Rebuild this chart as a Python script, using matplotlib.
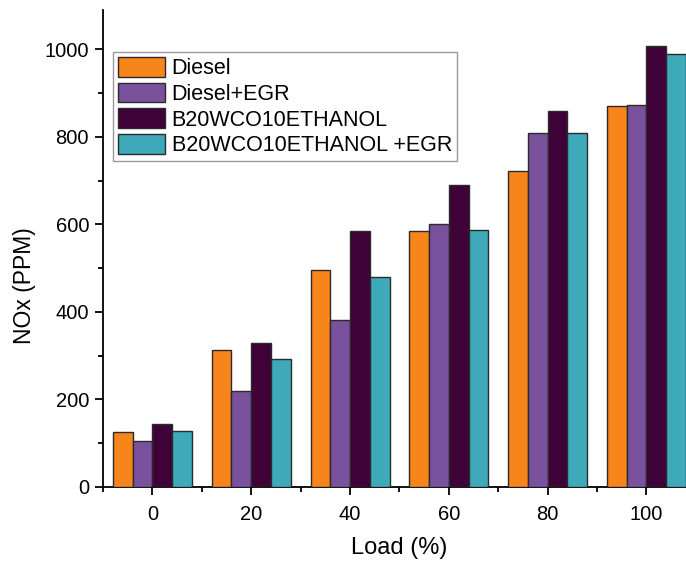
import numpy as np
import matplotlib
matplotlib.use("Agg")
import matplotlib.pyplot as plt
from matplotlib.ticker import MultipleLocator

plt.rcParams['font.family'] = ['Liberation Sans', 'DejaVu Sans']

# NOx emissions vs engine load
loads = [0, 20, 40, 60, 80, 100]
fuels = ['Diesel', 'Diesel+EGR', 'B20WCO10ETHANOL', 'B20WCO10ETHANOL +EGR']
diesel = [126, 314, 497, 586, 722, 870]
diesel_egr = [104, 219, 382, 602, 808, 873]
b20 = [143, 330, 584, 689, 859, 1008]
b20_egr = [129, 293, 480, 588, 808, 990]
colors = ['#F8841C', '#7A519C', '#3E0238', '#3EA9B9']

series = [diesel, diesel_egr, b20, b20_egr]
bar_w = 4
offsets = [-6, -2, 2, 6]

fig = plt.figure(figsize=(6.86, 5.61), dpi=100)
ax = fig.add_axes([103 / 686, 74 / 561, 583 / 686, 477 / 561])

x = np.array(loads, dtype=float)
for vals, off, col, name in zip(series, offsets, colors, fuels):
    ax.bar(x + off, vals, width=bar_w, color=col, edgecolor='#2a2a2a',
           linewidth=1.0, label=name, zorder=3)

ax.set_xlim(-10, 108)
ax.set_ylim(0, 1090)

ax.spines['top'].set_visible(False)
ax.spines['right'].set_visible(False)
for s in ('left', 'bottom'):
    ax.spines[s].set_linewidth(1.3)

ax.set_xticks(loads)
ax.xaxis.set_minor_locator(MultipleLocator(10))
ax.yaxis.set_major_locator(MultipleLocator(200))
ax.yaxis.set_minor_locator(MultipleLocator(100))
ax.tick_params(axis='both', which='major', direction='out', length=6,
               width=1.3, labelsize=14.5)
ax.tick_params(axis='both', which='minor', direction='out', length=3.5,
               width=1.3)
ax.tick_params(axis='y', pad=4)
ax.tick_params(axis='x', pad=7)

ax.set_xlabel('Load (%)', fontsize=17)
ax.set_ylabel('NOx (PPM)', fontsize=16.5)
ax.xaxis.label.set_va('center')
ax.yaxis.label.set_va('center')
ax.xaxis.set_label_coords(0.508, -0.128)
ax.yaxis.set_label_coords(-0.134, 0.423)

leg = ax.legend(loc='upper left', bbox_to_anchor=(113 / 686, 1 - 52 / 561),
                bbox_transform=fig.transFigure, borderaxespad=0,
                fontsize=15.5, handlelength=2.2, handleheight=1.05,
                labelspacing=0.16, handletextpad=0.3, borderpad=0.22,
                fancybox=False, framealpha=1, edgecolor='#9a9a9a')
leg.get_frame().set_linewidth(1.0)

fig.savefig('out.png', dpi=100)
